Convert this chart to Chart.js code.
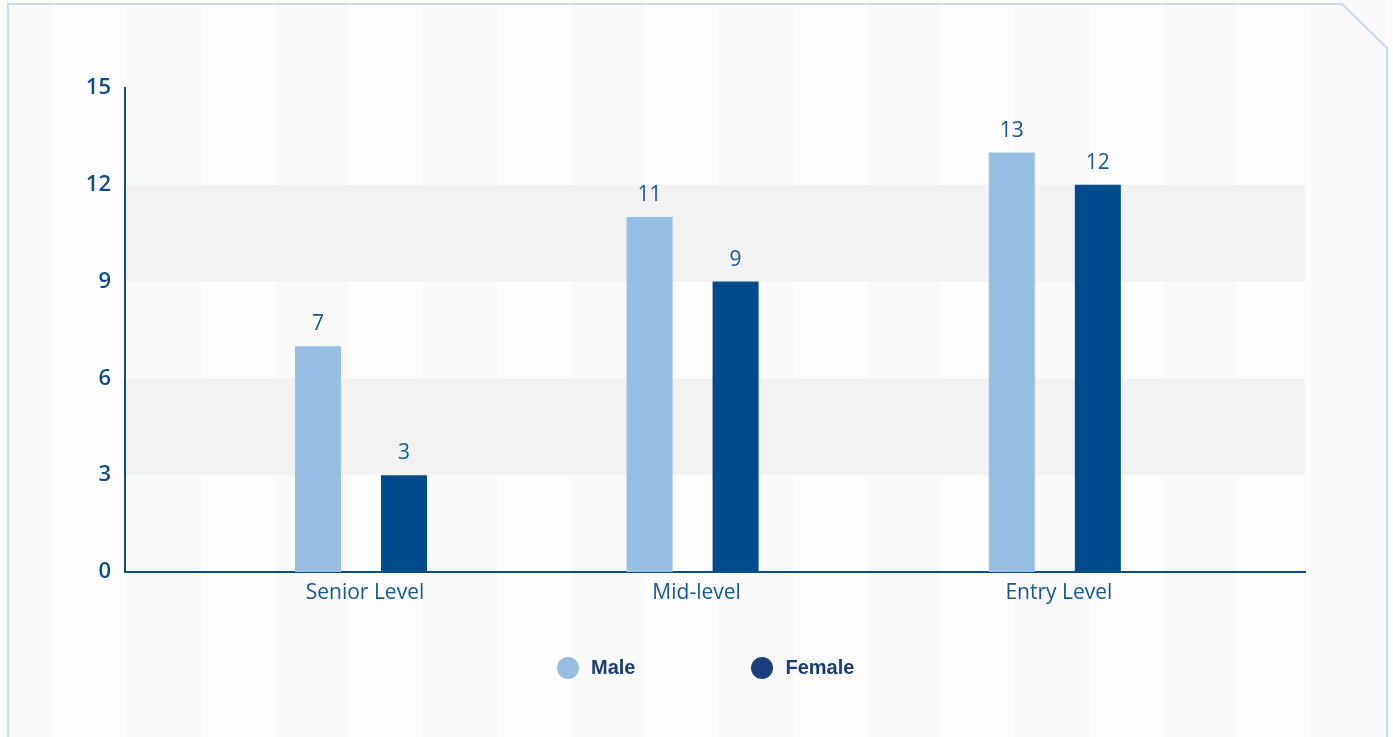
<!DOCTYPE html>
<html lang="en">
<head>
<meta charset="utf-8">
<title>Employees by level and gender</title>
<script src="https://cdn.jsdelivr.net/npm/chart.js@4.4.1/dist/chart.umd.min.js"></script>
<style>
  html, body {
    margin: 0;
    padding: 0;
    background: #fcfcfc;
  }
  .panel {
    position: relative;
    width: 1393px;
    height: 737px;
    overflow: hidden;
    background-color: #fcfcfc;
    background-image: repeating-linear-gradient(90deg,
      #fafafa 0, #fafafa 53px, #fdfdfd 53px, #fdfdfd 127px, #fafafa 127px, #fafafa 148px);
  }
  #levels-chart {
    position: absolute;
    left: 0;
    top: 0;
  }
  .legend {
    position: absolute;
    left: 557px;
    top: 656px;
    display: flex;
    align-items: center;
    font-family: "Liberation Sans", Arial, sans-serif;
    font-weight: bold;
    font-size: 20px;
    color: #1a3b7a;
  }
  .legend__item {
    display: flex;
    align-items: center;
    margin-right: 116px;
  }
  .legend__swatch {
    width: 22px;
    height: 22px;
    border-radius: 50%;
    margin-right: 12px;
  }
</style>
</head>
<body>
<div class="panel">
  <canvas id="levels-chart" width="1393" height="737"></canvas>
  <div class="legend" id="levels-legend"></div>
</div>
<script>
(function () {
  const CATEGORIES = ["Senior Level", "Mid-level", "Entry Level"];
  // The groups are not evenly spaced in the original, so the x axis is linear
  // and each category sits at its own position on a 0-10 scale.
  const CATEGORY_POS = [2.0, 4.81, 7.88];
  const MALE = [7, 11, 13];
  const FEMALE = [3, 9, 12];
  const SERIES_NAMES = ["Male", "Female"];
  const Y_TICKS = [0, 3, 6, 9, 12, 15];
  const SHADED_BANDS = [[3, 6], [9, 12]];

  const MALE_COLOR = "#97bfe3";
  const FEMALE_COLOR = "#004b8d";
  const LEGEND_COLORS = ["#97bfe3", "#1c3f80"];
  const AXIS_COLOR = "#0b4c8c";
  const LABEL_COLOR = "#14579a";
  const BAND_COLOR = "#f2f2f2";
  const FRAME_COLOR = "#c6dcf1";

  function points(values) {
    return values.map(function (v, i) {
      return { x: CATEGORY_POS[i], y: v };
    });
  }

  const framePlugin = {
    id: "frame",
    beforeDraw: function (chart) {
      const ctx = chart.ctx;
      const w = chart.width;
      const h = chart.height;
      ctx.save();
      ctx.strokeStyle = FRAME_COLOR;
      ctx.lineWidth = 2;
      ctx.beginPath();
      ctx.moveTo(8, h + 2);
      ctx.lineTo(8, 4);
      ctx.lineTo(w - 51, 4);
      ctx.lineTo(w - 6, 48);
      ctx.lineTo(w - 6, h + 2);
      ctx.stroke();
      ctx.restore();
    },
  };

  const bandsPlugin = {
    id: "bands",
    beforeDatasetsDraw: function (chart) {
      const ctx = chart.ctx;
      const area = chart.chartArea;
      const y = chart.scales.y;
      ctx.save();
      ctx.fillStyle = BAND_COLOR;
      SHADED_BANDS.forEach(function (band) {
        const top = y.getPixelForValue(band[1]);
        const bottom = y.getPixelForValue(band[0]);
        ctx.fillRect(area.left + 1, top, area.right - area.left - 1, bottom - top);
      });
      ctx.restore();
    },
  };

  const valueLabelsPlugin = {
    id: "valueLabels",
    afterDatasetsDraw: function (chart) {
      const ctx = chart.ctx;
      ctx.save();
      ctx.font = '21px "Open Sans", sans-serif';
      ctx.fillStyle = LABEL_COLOR;
      ctx.textAlign = "center";
      ctx.textBaseline = "alphabetic";
      chart.data.datasets.forEach(function (ds, di) {
        chart.getDatasetMeta(di).data.forEach(function (bar, i) {
          ctx.fillText(String(ds.data[i].y), bar.x, bar.y - 16);
        });
      });
      ctx.restore();
    },
  };

  new Chart(document.getElementById("levels-chart"), {
    type: "bar",
    data: {
      datasets: [
        {
          label: SERIES_NAMES[0],
          data: points(MALE),
          backgroundColor: MALE_COLOR,
          categoryPercentage: 0.5187,
          barPercentage: 0.535,
        },
        {
          label: SERIES_NAMES[1],
          data: points(FEMALE),
          backgroundColor: FEMALE_COLOR,
          categoryPercentage: 0.5187,
          barPercentage: 0.535,
        },
      ],
    },
    options: {
      responsive: false,
      animation: false,
      layout: { padding: { left: 0, right: 88, top: 88, bottom: 125 } },
      plugins: {
        legend: { display: false },
        tooltip: { enabled: false },
      },
      scales: {
        x: {
          type: "linear",
          offset: false,
          min: 0,
          max: 10,
          grid: { display: false, drawTicks: false },
          border: { display: true, color: AXIS_COLOR, width: 2 },
          afterBuildTicks: function (scale) {
            scale.ticks = CATEGORY_POS.map(function (v) { return { value: v }; });
          },
          afterFit: function (scale) { scale.height = 40; },
          ticks: {
            autoSkip: false,
            maxRotation: 0,
            padding: 8,
            labelOffset: 4,
            color: LABEL_COLOR,
            font: { family: '"Open Sans", sans-serif', size: 21 },
            callback: function (value) {
              const idx = CATEGORY_POS.indexOf(value);
              return idx >= 0 ? CATEGORIES[idx] : "";
            },
          },
        },
        y: {
          min: Y_TICKS[0],
          max: Y_TICKS[Y_TICKS.length - 1],
          grid: { display: false, drawTicks: false },
          border: { display: true, color: AXIS_COLOR, width: 2 },
          afterFit: function (scale) { scale.width = 125; },
          ticks: {
            stepSize: Y_TICKS[1] - Y_TICKS[0],
            padding: 14,
            color: AXIS_COLOR,
            font: { family: '"Open Sans", sans-serif', size: 22, weight: "600" },
          },
        },
      },
    },
    plugins: [framePlugin, bandsPlugin, valueLabelsPlugin],
  });

  const legendEl = document.getElementById("levels-legend");
  legendEl.innerHTML = SERIES_NAMES.map(function (name, i) {
    return '<span class="legend__item">' +
      '<span class="legend__swatch" style="background:' + LEGEND_COLORS[i] + '"></span>' +
      name + "</span>";
  }).join("");
})();
</script>
</body>
</html>
